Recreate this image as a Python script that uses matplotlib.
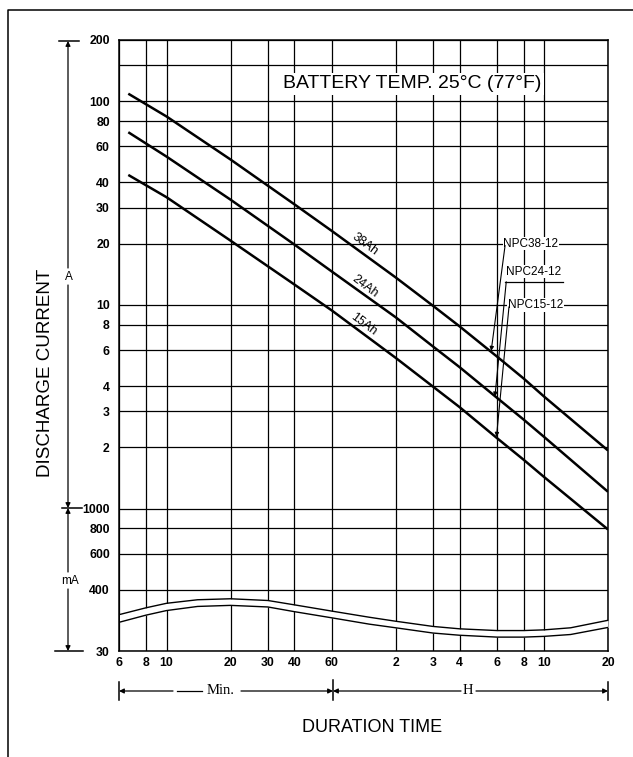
import matplotlib
matplotlib.use('Agg')
import matplotlib.pyplot as plt

# ---------------- data (minutes, amperes) ----------------
t38 = [6.6, 10, 20, 40, 60, 120, 180, 240, 360, 480, 600, 1200]
i38 = [109, 84.2, 51.8, 31.2, 23.1, 13.65, 9.9, 7.85, 5.58, 4.36, 3.55, 1.93]
t24 = [6.6, 10, 20, 40, 60, 120, 180, 240, 360, 480, 600, 1200]
i24 = [70.5, 53.5, 32.9, 19.8, 14.6, 8.7, 6.25, 4.95, 3.5, 2.74, 2.25, 1.21]
t15 = [6.6, 10, 20, 40, 60, 120, 180, 240, 360, 480, 600, 1200]
i15 = [43.5, 33.8, 20.7, 12.6, 9.4, 5.5, 3.97, 3.15, 2.22, 1.74, 1.43, 0.79]

curve_names = ['38Ah', '24Ah', '15Ah']
label_t = [86, 86, 85]
label_i = [19.9, 12.3, 8.0]

model_names = ['NPC38-12', 'NPC24-12', 'NPC15-12']
model_t = [520, 535, 545]
model_i = [20, 14.6, 10]
leader_start_t = [393, 398, 410]
leader_start_i = [19.6, 13.0, 9.8]
leader_tip_t = [338, 352, 358]
leader_tip_i = [5.95, 3.55, 2.25]
underline_t = [393, 736]
underline_i = [13.0, 13.0]

# axis break band
t_brk = [6, 8, 10, 14, 20, 30, 40, 60, 90, 120, 180, 240, 360, 480, 600, 800, 1200]
brk_up = [0.302, 0.326, 0.343, 0.357, 0.361, 0.354, 0.337, 0.314, 0.293, 0.280,
          0.264, 0.257, 0.252, 0.252, 0.254, 0.260, 0.283]
brk_lo = [0.277, 0.300, 0.316, 0.331, 0.335, 0.329, 0.312, 0.291, 0.271, 0.260,
          0.245, 0.239, 0.234, 0.234, 0.236, 0.241, 0.261]

x_ticks = [6, 8, 10, 20, 30, 40, 60, 120, 180, 240, 360, 480, 600, 1200]
x_labels = ['6', '8', '10', '20', '30', '40', '60', '2', '3', '4', '6', '8', '10', '20']
y_ticks = [0.2, 0.4, 0.6, 0.8, 1, 2, 3, 4, 6, 8, 10, 20, 30, 40, 60, 80, 100, 150, 200]
y_labels = ['30', '400', '600', '800', '1000', '2', '3', '4', '6', '8', '10', '20',
            '30', '40', '60', '80', '100', '', '200']

SANS = ['Liberation Sans', 'DejaVu Sans']
SERIF = ['Liberation Serif', 'DejaVu Serif']

# ---------------- figure ----------------
W, H = 633, 757
L, R, T, B = 119.5, 608, 40, 651
fig = plt.figure(figsize=(W / 100, H / 100), dpi=100)
fig.patch.set_facecolor('white')

ax0 = fig.add_axes([0, 0, 1, 1], zorder=0)
ax0.set_xlim(0, W)
ax0.set_ylim(H, 0)
ax0.axis('off')
ax0.patch.set_visible(False)

ax = fig.add_axes([L / W, 1 - B / H, (R - L) / W, (B - T) / H], zorder=1)
ax.set_xscale('log')
ax.set_yscale('log')
ax.set_xlim(6, 1200)
ax.set_ylim(0.2, 200)
ax.minorticks_off()
ax.set_xticks(x_ticks)
ax.set_xticklabels(x_labels)
ax.set_yticks(y_ticks)
ax.set_yticklabels(y_labels)
ax.tick_params(length=0, pad=7)
ax.tick_params(axis='x', pad=4)
for lab in ax.get_xticklabels() + ax.get_yticklabels():
    lab.set_fontfamily(SANS)
    lab.set_fontweight('bold')
    lab.set_fontsize(8.8)
ax.grid(True, which='major', color='black', lw=0.9, zorder=1)
ax.set_axisbelow(True)
for s in ax.spines.values():
    s.set_linewidth(1.1)

# curves
for t, i in [(t38, i38), (t24, i24), (t15, i15)]:
    ax.plot(t, i, color='black', lw=1.8, zorder=4, solid_capstyle='butt',
            solid_joinstyle='round')

for name, x, y in zip(curve_names, label_t, label_i):
    ax.text(x, y, name, rotation=-37, ha='center', va='center', fontsize=9,
            family=SANS, zorder=6, rotation_mode='anchor')

# model labels and leaders
for name, x, y in zip(model_names, model_t, model_i):
    ax.text(x, y, name, ha='center', va='center', fontsize=8.5, family=SANS,
            zorder=6, bbox=dict(fc='white', ec='none', pad=0.6))
for xs, ys, xt, yt in zip(leader_start_t, leader_start_i, leader_tip_t, leader_tip_i):
    ax.annotate('', xy=(xt, yt), xytext=(xs, ys),
                arrowprops=dict(arrowstyle='-|>', color='black', lw=0.8,
                                mutation_scale=6, shrinkA=0, shrinkB=0), zorder=6)
ax.plot(underline_t, underline_i, color='black', lw=0.9, zorder=6)

# title box
ax.text((412 - L) / (R - L), (B - 84) / (B - T), 'BATTERY TEMP. 25°C (77°F)',
        transform=ax.transAxes, ha='center', va='center', fontsize=14,
        family=SANS, zorder=5, bbox=dict(fc='white', ec='none', pad=2.0))

# axis break band
ax.fill_between(t_brk, brk_lo, brk_up, color='white', zorder=3, clip_on=False, lw=0)
ax.plot(t_brk, brk_up, color='black', lw=1.0, zorder=4)
ax.plot(t_brk, brk_lo, color='black', lw=1.0, zorder=4)

# ---------------- decorations (pixel coords) ----------------
arr = dict(arrowstyle='-|>', color='black', lw=0.9, mutation_scale=7, shrinkA=0, shrinkB=0)
ax0.plot([8, 8, W], [H, 10, 10], color='black', lw=1.1)

# left current arrows
ax0.plot([59, 79], [41, 41], color='black', lw=1.1)
ax0.plot([62, 82], [508, 508], color='black', lw=1.1)
ax0.plot([55, 83], [651, 651], color='black', lw=1.1)
ax0.annotate('', xy=(68, 41), xytext=(68, 268), arrowprops=arr)
ax0.annotate('', xy=(68, 508), xytext=(68, 285), arrowprops=arr)
ax0.annotate('', xy=(68, 508), xytext=(68, 572), arrowprops=arr)
ax0.annotate('', xy=(68, 651), xytext=(68, 589), arrowprops=arr)
ax0.text(69, 277, 'A', ha='center', va='center', fontsize=8.5, family=SANS)
ax0.text(70, 581, 'mA', ha='center', va='center', fontsize=8.5, family=SANS)

ax0.text(46, 373, 'DISCHARGE CURRENT', rotation=90, ha='center', va='center',
         fontsize=13.5, family=SANS)

# duration bracket
ax0.plot([119, 119], [682, 700], color='black', lw=1.1)
ax0.plot([333, 333], [680, 700], color='black', lw=1.1)
ax0.plot([608, 608], [682, 700], color='black', lw=1.1)
ax0.annotate('', xy=(119, 691), xytext=(173, 691), arrowprops=arr)
ax0.plot([177, 202], [691, 691], color='black', lw=0.9)
ax0.annotate('', xy=(333, 691), xytext=(241, 691), arrowprops=arr)
ax0.annotate('', xy=(333, 691), xytext=(461, 691), arrowprops=arr)
ax0.annotate('', xy=(608, 691), xytext=(476, 691), arrowprops=arr)
ax0.text(221, 691, 'Min.', ha='center', va='center', fontsize=10.5, family=SERIF)
ax0.text(468, 691, 'H', ha='center', va='center', fontsize=10.5, family=SERIF)

ax0.text(372, 728, 'DURATION TIME', ha='center', va='center', fontsize=13, family=SANS)

fig.savefig('out.png', dpi=100, facecolor='white')
